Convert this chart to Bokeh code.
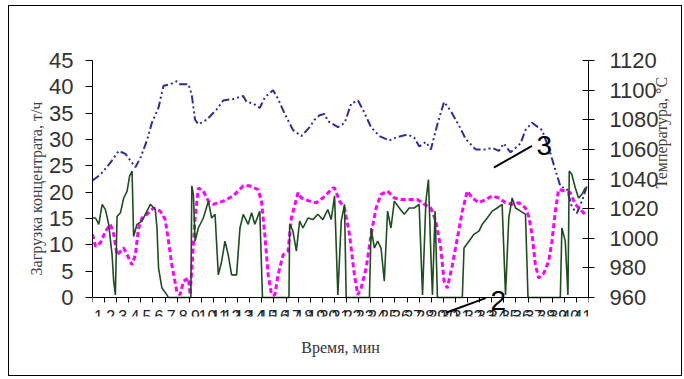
import math
from bokeh.plotting import figure
from bokeh.models import Range1d, LinearAxis, FixedTicker, Label, Arrow, Title
from bokeh.embed import file_html
from bokeh.resources import INLINE

# categories (time, minutes) - 41 categories
time_labels = ["1", "2", "3", "4", "5", "6", "7", "8", "9", "10",
               "11", "12", "13", "14", "15", "16", "17", "18", "19", "20",
               "21", "22", "23", "24", "25", "26", "27", "28", "29", "30",
               "31", "32", "33", "34", "35", "36", "37", "38", "39", "40", "41"]
cat_centers = [i + 0.5 for i in range(len(time_labels))]
cat_bounds = [float(i) for i in range(len(time_labels) + 1)]

# series 1: concentrate load, t/h (green, left axis)
load_t = [0.0, 0.25, 0.52, 0.8, 1.07, 1.34, 1.62, 1.75, 1.89, 2.03, 2.31, 2.58, 2.86, 3.07, 3.27,
          3.4, 3.68, 4.09, 4.5, 4.78, 5.19, 5.33, 5.46, 5.74, 6.15, 6.28, 8.13, 8.21, 8.34, 8.48,
          8.75, 9.16, 9.58, 9.85, 10.13, 10.4, 10.68, 10.95, 11.22, 11.5, 11.91, 12.19, 12.46, 12.87,
          13.15, 13.42, 13.83, 14.05, 16.24, 16.3, 16.57, 16.85, 17.12, 17.4, 17.81, 18.22, 18.63,
          19.04, 19.45, 19.73, 20.01, 20.28, 20.56, 20.83, 20.97, 22.89, 23.03, 23.3, 23.57, 23.85,
          24.12, 24.39, 24.67, 24.95, 25.36, 25.77, 26.18, 26.59, 27.0, 27.28, 27.56, 27.77, 27.97,
          28.1, 28.32, 28.51, 30.57, 30.71, 31.12, 31.53, 31.94, 32.22, 32.63, 33.04, 33.45, 33.86,
          34.14, 34.41, 34.69, 34.97, 35.38, 35.79, 36.0, 38.67, 38.8, 39.08, 39.3, 39.41, 39.62,
          39.91, 40.18, 40.46, 40.73]
load_v = [15.1, 15.1, 13.9, 17.7, 16.7, 13.9, 8.1, 3.1, 0.5, 15.4, 16.1, 18.9, 20.2, 23.1, 24.0,
          11.6, 13.9, 14.5, 16.4, 17.7, 16.7, 13.2, 5.6, 1.8, 0.5, 0.0, 0.0, 21.2, 19.6, 10.7,
          13.2, 15.1, 18.3, 15.1, 15.8, 4.3, 6.9, 10.7, 8.1, 4.3, 4.3, 13.2, 15.8, 13.9,
          16.1, 13.9, 16.4, 0.0, 0.0, 13.9, 12.6, 8.8, 14.5, 13.2, 15.1, 14.8, 15.8,
          14.8, 16.7, 14.8, 19.3, 0.5, 14.5, 17.7, 0.0, 0.0, 13.2, 9.4, 10.7, 9.4,
          3.1, 16.4, 13.2, 18.3, 17.0, 15.8, 17.0, 17.0, 17.7, 0.5, 18.3, 22.4, 8.1,
          0.5, 16.4, 0.0, 0.0, 9.4, 10.7, 12.0, 12.6, 13.9, 15.1, 16.4, 17.0, 17.7,
          0.5, 15.1, 18.9, 17.0, 16.4, 15.8, 0.0, 0.0, 13.2, 10.7, 0.5, 24.0, 23.4,
          20.8, 18.9, 19.6, 20.8]

# series 2 (magenta dashed, left axis)
s2_t = [0.0, 0.25, 0.66, 1.07, 1.48, 1.75, 2.03, 2.58, 2.99, 3.27, 3.54, 3.81, 4.09, 4.64, 5.05,
        5.6, 6.01, 6.28, 6.56, 6.97, 7.24, 7.52, 7.93, 8.07, 8.48, 8.75, 9.16, 9.58, 9.99, 10.81,
        11.63, 12.46, 13.01, 13.69, 13.97, 14.24, 14.52, 14.8, 15.07, 15.34, 15.75, 16.16, 16.44,
        16.99, 17.27, 17.95, 18.5, 19.04, 19.87, 20.01, 20.42, 20.83, 21.24, 21.65, 21.93, 22.2,
        22.62, 23.03, 23.44, 23.85, 24.39, 24.95, 25.5, 26.18, 26.86, 27.42, 27.97, 28.38, 28.79,
        29.06, 29.33, 29.75, 30.16, 30.57, 30.98, 31.39, 31.94, 32.5, 33.04, 33.59, 34.14, 34.69,
        35.24, 35.79, 36.06, 36.33, 36.61, 36.88, 37.3, 37.71, 37.98, 38.26, 38.53, 39.08, 39.49,
        39.91, 40.32, 40.73]
s2_v = [12.0, 9.7, 10.4, 12.6, 13.9, 12.0, 8.1, 9.4, 7.5, 6.2, 8.1, 13.2, 15.1, 16.1, 17.0,
        16.4, 14.8, 10.7, 6.2, 1.1, 0.5, 3.1, 3.7, 0.5, 15.1, 20.8, 20.2, 18.3, 17.7, 18.3,
        19.3, 21.2, 21.2, 20.5, 18.3, 12.0, 4.3, 0.5, 0.5, 4.3, 8.1, 8.8, 15.1,
        19.9, 18.9, 18.3, 18.0, 18.9, 20.8, 20.8, 18.3, 17.0, 12.0, 4.3, 0.5, 1.8,
        5.6, 12.0, 17.0, 19.6, 20.2, 18.9, 18.6, 18.6, 18.6, 17.7, 17.0, 14.5, 9.4,
        3.1, 1.8, 6.2, 11.3, 16.4, 20.2, 18.9, 18.0, 18.6, 19.3, 18.9, 18.0, 17.7,
        18.0, 17.0, 15.4, 12.0, 6.2, 3.7, 4.6, 6.9, 10.7, 16.4, 20.5, 20.2, 19.9,
        17.7, 16.7, 15.8]

# series 3: temperature, deg C (blue dash-dot, right axis)
temp_t = [0.0, 0.66, 1.48, 2.17, 2.72, 3.27, 3.54, 3.95, 4.5, 4.91, 5.45, 5.87, 6.42, 6.97, 7.24,
          7.93, 8.2, 8.48, 8.75, 9.44, 10.26, 10.81, 11.63, 12.46, 12.74, 13.28, 13.83, 14.24,
          14.93, 15.34, 15.89, 16.58, 17.27, 17.95, 18.36, 18.77, 19.18, 19.46, 20.29, 20.85,
          21.39, 21.94, 22.34, 23.03, 23.71, 24.54, 25.09, 26.04, 26.59, 27.01, 27.56, 27.97,
          28.51, 29.06, 29.61, 30.3, 30.85, 31.67, 32.5, 33.04, 33.59, 34.0, 34.55, 35.38, 35.79,
          36.33, 37.16, 37.71, 38.12, 38.68, 39.22, 39.63, 40.04, 40.45, 40.86]
temp_v = [1039, 1043, 1051, 1059, 1057, 1051, 1048, 1054, 1066, 1078, 1088, 1103, 1104, 1106, 1104,
          1104, 1097, 1080, 1077, 1080, 1087, 1093, 1094, 1096, 1092, 1091, 1088, 1095,
          1100, 1094, 1084, 1073, 1069, 1075, 1080, 1083, 1084, 1079, 1075, 1078,
          1091, 1093, 1087, 1075, 1069, 1066, 1068, 1070, 1068, 1062, 1065, 1060,
          1077, 1092, 1086, 1076, 1067, 1060, 1060, 1061, 1059, 1064, 1058, 1064, 1073,
          1078, 1073, 1061, 1050, 1035, 1033, 1021, 1017, 1025, 1035]

left_ticks = [0, 5, 10, 15, 20, 25, 30, 35, 40, 45]
right_ticks = [960, 980, 1000, 1020, 1040, 1060, 1080, 1100, 1120]

# the frame extends a little below zero so that the "2" marker and its pointer are not clipped
p = figure(frame_width=496, frame_height=256, output_backend="svg", toolbar_location=None,
           x_range=Range1d(0, 41), y_range=Range1d(-3.6, 45),
           min_border_left=83, min_border_right=88, min_border_top=54, min_border_bottom=57)
p.margin = (5, 0, 0, 8)
p.styles = {"border": "1px solid #000000"}
p.outline_line_color = None
p.xgrid.visible = False
p.ygrid.visible = False
p.background_fill_color = "white"
p.border_fill_color = "white"

p.extra_y_ranges = {"temp": Range1d(947.2, 1120)}

# x axis (placed at y = 0)
xa = p.xaxis[0]
xa.fixed_location = 0
xa.ticker = FixedTicker(ticks=cat_centers, minor_ticks=cat_bounds)
xa.major_label_overrides = {c: l for c, l in zip(cat_centers, time_labels)}
xa.major_tick_out = 0
xa.major_tick_in = 0
xa.minor_tick_out = 5
xa.minor_tick_in = 0
xa.minor_tick_line_color = "black"
xa.axis_line_color = "black"
xa.major_label_text_font = "Liberation Sans"
xa.major_label_text_font_size = "16px"
xa.major_label_text_color = "#222222"
xa.major_label_standoff = 7

p.add_layout(Title(text="Время, мин", align="center", offset=10,
                   text_font="Liberation Serif", text_font_size="16px",
                   text_font_style="normal", text_color="#333333", standoff=40), "below")

# left axis
ya = p.yaxis[0]
ya.ticker = FixedTicker(ticks=left_ticks)
ya.bounds = (0, 45)
ya.minor_tick_line_color = None
ya.major_tick_out = 7
ya.major_tick_in = 0
ya.axis_line_color = "black"
ya.major_label_text_font = "Liberation Sans"
ya.major_label_text_font_size = "22px"
ya.major_label_text_color = "#333333"
ya.major_label_standoff = 12
ya.axis_label = "Загрузка концентрата, т/ч"
ya.axis_label_text_font = "Liberation Serif"
ya.axis_label_text_font_style = "normal"
ya.axis_label_text_font_size = "16px"
ya.axis_label_text_color = "#404040"
ya.axis_label_standoff = 1

# right axis
ra = LinearAxis(y_range_name="temp", ticker=FixedTicker(ticks=right_ticks))
ra.bounds = (960, 1120)
ra.minor_tick_line_color = None
ra.major_tick_out = 6
ra.major_tick_in = 6
ra.axis_line_color = "black"
ra.major_label_text_font = "Liberation Sans"
ra.major_label_text_font_size = "22px"
ra.major_label_text_color = "#333333"
ra.major_label_standoff = 15
ra.axis_label = "Температура, °С"
ra.axis_label_orientation = math.pi / 2
ra.axis_label_text_font = "Liberation Serif"
ra.axis_label_text_font_style = "normal"
ra.axis_label_text_font_size = "16px"
ra.axis_label_text_color = "#404040"
ra.axis_label_standoff = 0
p.add_layout(ra, "right")

# series
p.line(temp_t, temp_v, y_range_name="temp", line_color="#2e2e96", line_width=2,
       line_dash="8 3 2 3 2 3")
p.line(s2_t, s2_v, line_color="#ff00ff", line_width=3, line_dash="5 3")
p.line(load_t, load_v, line_color="#1e4d1e", line_width=1.6)

# curve markers
p.add_layout(Arrow(end=None, x_start=33.18, y_start=24.66, x_end=36.33, y_end=28.8,
                   line_color="black", line_width=2))
p.add_layout(Label(x=36.7, y=28.8, text="3", text_font="Liberation Sans",
                   text_font_size="28px", text_baseline="middle", text_color="black"))
p.add_layout(Arrow(end=None, x_start=29.2, y_start=-2.9, x_end=32.5, y_end=-0.1,
                   line_color="black", line_width=2))
p.add_layout(Label(x=32.9, y=-0.6, text="2", text_font="Liberation Sans",
                   text_font_size="28px", text_baseline="alphabetic", text_color="black"))

open("out.html", "w").write(file_html(p, INLINE))
